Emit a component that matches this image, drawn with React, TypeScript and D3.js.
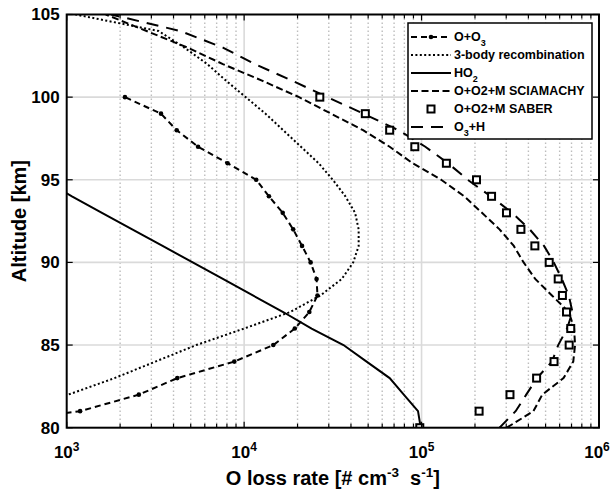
import React from "react";
import * as d3 from "d3";

// ---------- data ----------
const altitudes = [80, 81, 82, 83, 84, 85, 86, 87, 88, 89, 90, 91, 92, 93, 94, 95, 96, 97, 98, 99, 100, 101, 102, 103, 104, 105];

const oO3Alt = [80, 81, 82, 83, 84, 85, 86, 87, 88, 89, 90, 91, 92, 93, 94, 95, 96, 97, 98, 99, 100];
const oO3 = [210, 1190, 2550, 4200, 8800, 14600, 19300, 23300, 25900, 25600, 23700, 21200, 18900, 16500, 13800, 11700, 8070, 5500, 4170, 3400, 2130];

const threeBody = [280, 525, 1020, 1860, 3160, 5370, 10000, 18200, 26900, 35500, 41200, 44200, 44200, 42200, 37200, 31600, 26300, 20900, 16600, 13200, 10200, 7900, 6200, 4600, 3300, 1120];

const ho2Alt = [80, 81, 82, 83, 84, 85, 86, 87, 88, 89, 90, 91, 92, 93, 94, 95];
const ho2 = [98900, 95500, 79400, 66100, 49000, 36300, 24000, 16600, 11200, 7590, 5130, 3470, 2340, 1580, 1070, 741];

const sciamachy = [302000, 427000, 479000, 631000, 716000, 733000, 724000, 676000, 543000, 437000, 376000, 331000, 275000, 219000, 174000, 129000, 89100, 66100, 46800, 30900, 20400, 12600, 7590, 4790, 2820, 1660];

const saberAlt = [80, 81, 82, 83, 84, 85, 86, 87, 88, 89, 90, 91, 92, 93, 94, 95, 96, 97, 98, 99, 100];
const saber = [97700, 211000, 315000, 445000, 558000, 679000, 693000, 656000, 622000, 589000, 524000, 435000, 363000, 301000, 248000, 204000, 138000, 91600, 66100, 48200, 26700];

const o3H = [275000, 339000, 389000, 447000, 543000, 589000, 661000, 708000, 676000, 617000, 556000, 490000, 407000, 324000, 245000, 182000, 141000, 105000, 74000, 47000, 29500, 18600, 11500, 7590, 4370, 1780];

const xTickExps = [3, 4, 5, 6];
const yTicks = [80, 85, 90, 95, 100, 105];

const legendItems = ["O+O3", "3-body recombination", "HO2", "O+O2+M SCIAMACHY", "O+O2+M SABER", "O3+H"];

// ---------- layout ----------
const W = 613;
const H = 492;
const left = 66.7;
const right = 599;
const top = 14.5;
const bottom = 427.7;
const FONT = "'Liberation Sans', Arial, Helvetica, sans-serif";

export default function App() {
  const x = d3.scaleLog().domain([1e3, 1e6]).range([left, right]);
  const y = d3.scaleLinear().domain([80, 105]).range([bottom, top]);

  const line = d3
    .line<[number, number]>()
    .x((d) => x(d[0]))
    .y((d) => y(d[1]));

  const zip = (vals: number[], alts: number[]) => vals.map((v, i) => [v, alts[i]] as [number, number]);

  const minorTicks: number[] = [];
  for (let e = 3; e < 6; e++) {
    for (let m = 2; m <= 9; m++) minorTicks.push(m * Math.pow(10, e));
  }
  const majorTicks = xTickExps.map((e) => Math.pow(10, e));

  const oO3Pts = zip(oO3, oO3Alt);
  const saberPts = zip(saber, saberAlt);

  const legX0 = 408;
  const legY0 = 23;
  const legW = 184;
  const legH = 116;
  const legRow = (i: number) => 37 + i * 18;
  const lx1 = 411;
  const lx2 = 451;
  const tx = 454;
  const lfs = 12.5;

  const labelX = (e: number) => Math.min(x(Math.pow(10, e)), 597);
  const cx = (left + right) / 2;
  const cy = (top + bottom) / 2;

  return (
    <svg
      width={W}
      height={H}
      style={{ position: "absolute", left: 0, top: 0, background: "#fff" }}
      fontFamily={FONT}
    >
      <defs>
        <clipPath id="plotclip">
          <rect x={left} y={top} width={right - left} height={bottom - top} />
        </clipPath>
      </defs>
      <rect x={0} y={0} width={W} height={H} fill="#fff" />

      {/* grid */}
      <g>
        {minorTicks.map((t) => (
          <line key={"mg" + t} x1={x(t)} x2={x(t)} y1={top} y2={bottom} stroke="#bdbdbd" strokeWidth={1.4} strokeDasharray="1.5 2.5" />
        ))}
        {majorTicks.slice(1, 3).map((t) => (
          <line key={"Mg" + t} x1={x(t)} x2={x(t)} y1={top} y2={bottom} stroke="#dadada" strokeWidth={1.6} />
        ))}
        {yTicks.slice(1, 5).map((t) => (
          <line key={"yg" + t} x1={left} x2={right} y1={y(t)} y2={y(t)} stroke="#dadada" strokeWidth={1.6} />
        ))}
      </g>

      {/* curves */}
      <g clipPath="url(#plotclip)" fill="none" stroke="#000" strokeWidth={2}>
        <path d={line(zip(threeBody, altitudes)) || ""} strokeDasharray="2 2.4" />
        <path d={line(zip(ho2, ho2Alt)) || ""} />
        <path d={line(zip(sciamachy, altitudes)) || ""} strokeDasharray="7 3.5" />
        <path d={line(zip(o3H, altitudes)) || ""} strokeDasharray="12 8" />
        <path d={line(oO3Pts) || ""} strokeDasharray="6 4" />
        {oO3Pts.map((p, i) => (
          <circle key={"m" + i} cx={x(p[0])} cy={y(p[1])} r={2.3} fill="#000" stroke="none" />
        ))}
        {saberPts.map((p, i) => (
          <rect key={"s" + i} x={x(p[0]) - 3.5} y={y(p[1]) - 3.5} width={7} height={7} fill="#fff" stroke="#000" strokeWidth={2} />
        ))}
      </g>

      {/* ticks */}
      <g stroke="#000" strokeWidth={1.2}>
        {majorTicks.map((t) => (
          <g key={"Mt" + t}>
            <line x1={x(t)} x2={x(t)} y1={bottom} y2={bottom - 6} />
            <line x1={x(t)} x2={x(t)} y1={top} y2={top + 6} />
          </g>
        ))}
        {minorTicks.map((t) => (
          <g key={"mt" + t}>
            <line x1={x(t)} x2={x(t)} y1={bottom} y2={bottom - 4} />
            <line x1={x(t)} x2={x(t)} y1={top} y2={top + 4} />
          </g>
        ))}
        {yTicks.map((t) => (
          <g key={"yt" + t}>
            <line x1={left} x2={left + 6} y1={y(t)} y2={y(t)} />
            <line x1={right} x2={right - 6} y1={y(t)} y2={y(t)} />
          </g>
        ))}
      </g>

      {/* frame */}
      <rect x={left} y={top} width={right - left} height={bottom - top} fill="none" stroke="#000" strokeWidth={2} />

      {/* y tick labels */}
      <g fontSize={17} fontWeight="bold" textAnchor="end" fill="#000">
        {yTicks.map((t) => (
          <text key={"yl" + t} x={left - 7} y={y(t)} dy="0.35em">
            {t}
          </text>
        ))}
      </g>

      {/* x tick labels */}
      <g fontSize={17} fontWeight="bold" textAnchor="middle" fill="#000">
        {xTickExps.map((e) => (
          <text key={"xl" + e} x={labelX(e)} y={458}>
            10
            <tspan fontSize={12} dy={-7}>
              {e}
            </tspan>
          </text>
        ))}
      </g>

      {/* axis titles */}
      <text x={cx} y={485} fontSize={20} fontWeight="bold" textAnchor="middle">
        O loss rate [# cm
        <tspan fontSize={13.5} dy={-8}>-3</tspan>
        <tspan dy={8}>{"\u00A0\u00A0s"}</tspan>
        <tspan fontSize={13.5} dy={-8}>-1</tspan>
        <tspan dy={8}>]</tspan>
      </text>
      <text transform={`translate(26,${cy}) rotate(-90)`} fontSize={20} fontWeight="bold" textAnchor="middle">
        Altitude [km]
      </text>

      {/* legend */}
      <g>
        <rect x={legX0} y={legY0} width={legW} height={legH} fill="#fff" stroke="#000" strokeWidth={1.5} />
        <g fill="none" stroke="#000" strokeWidth={2}>
          <line x1={lx1} x2={lx2} y1={legRow(0)} y2={legRow(0)} strokeDasharray="6 4" />
          <line x1={lx1} x2={lx2} y1={legRow(1)} y2={legRow(1)} strokeDasharray="2 2.4" />
          <line x1={lx1} x2={lx2} y1={legRow(2)} y2={legRow(2)} />
          <line x1={lx1} x2={lx2} y1={legRow(3)} y2={legRow(3)} strokeDasharray="7 3.5" />
          <line x1={lx1} x2={lx2} y1={legRow(5)} y2={legRow(5)} strokeDasharray="12 8" />
        </g>
        <circle cx={(lx1 + lx2) / 2} cy={legRow(0)} r={2.3} fill="#000" />
        <rect x={(lx1 + lx2) / 2 - 3.5} y={legRow(4) - 3.5} width={7} height={7} fill="#fff" stroke="#000" strokeWidth={2} />
        <g fontSize={lfs} fontWeight="bold" fill="#000">
          <text x={tx} y={legRow(0)} dy="0.3em">
            O+O<tspan fontSize={9} dy={5}>3</tspan>
          </text>
          <text x={tx} y={legRow(1)} dy="0.3em">{legendItems[1]}</text>
          <text x={tx} y={legRow(2)} dy="0.3em">
            HO<tspan fontSize={9} dy={5}>2</tspan>
          </text>
          <text x={tx} y={legRow(3)} dy="0.3em">{legendItems[3]}</text>
          <text x={tx} y={legRow(4)} dy="0.3em">{legendItems[4]}</text>
          <text x={tx} y={legRow(5)} dy="0.3em">
            O<tspan fontSize={9} dy={5}>3</tspan>
            <tspan dy={-5}>+H</tspan>
          </text>
        </g>
      </g>
    </svg>
  );
}
